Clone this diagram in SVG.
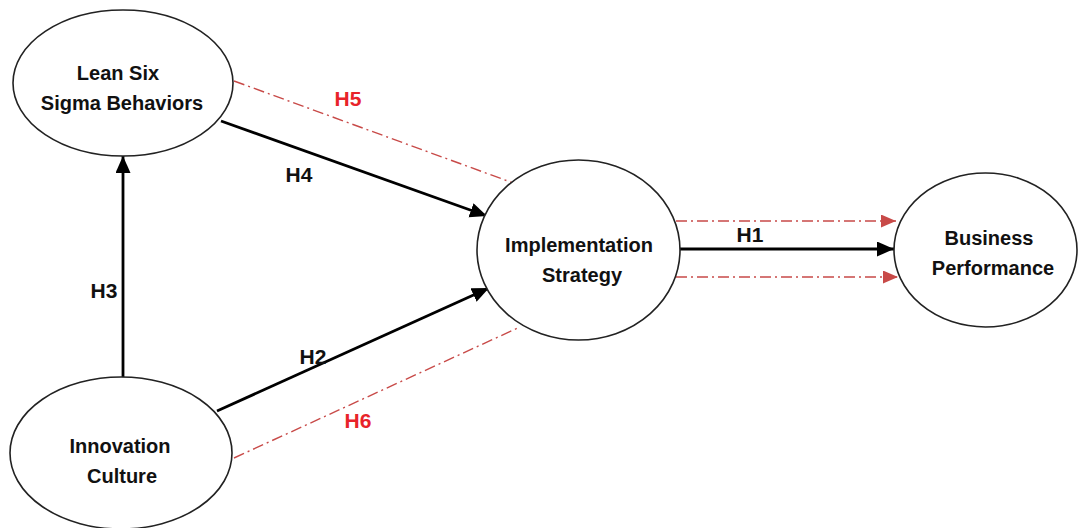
<svg xmlns="http://www.w3.org/2000/svg" width="1078" height="528" viewBox="0 0 1078 528">
<defs>
<style>
.node{fill:#fff;stroke:#222;stroke-width:1.6}
.nt{font-family:"Liberation Sans",Arial,sans-serif;font-weight:bold;font-size:20px;fill:#111;text-anchor:middle}
.lb{font-family:"Liberation Sans",Arial,sans-serif;font-weight:bold;font-size:21px;fill:#111;text-anchor:middle}
.lr{fill:#e8232a}
.blk{stroke:#000;stroke-width:2.8;fill:none}
.red{stroke:#c84a48;stroke-width:1.4;fill:none;stroke-dasharray:11 4 2 4}
</style>
<marker id="ab" markerUnits="userSpaceOnUse" markerWidth="20" markerHeight="18" refX="17" refY="7.5" orient="auto">
<path d="M0,0 L17,7.5 L0,15 z" fill="#000"/>
</marker>
<marker id="ar" markerUnits="userSpaceOnUse" markerWidth="16" markerHeight="14" refX="15" refY="6.5" orient="auto">
<path d="M0,0 L15,6.5 L0,13 z" fill="#c84a48"/>
</marker>
</defs>
<rect width="1078" height="528" fill="#fff"/>
<g id="connectors">
<line class="red" x1="234" y1="81" x2="516" y2="184"/>
<line class="red" x1="234" y1="458" x2="520" y2="327"/>
<line class="red" x1="676" y1="221" x2="896" y2="221" marker-end="url(#ar)"/>
<line class="red" x1="676" y1="277" x2="898" y2="277" marker-end="url(#ar)"/>
<line class="blk" x1="123" y1="377" x2="123" y2="156" marker-end="url(#ab)"/>
<line class="blk" x1="221" y1="121" x2="487" y2="216" marker-end="url(#ab)"/>
<line class="blk" x1="217" y1="411" x2="489" y2="288" marker-end="url(#ab)"/>
<line class="blk" x1="678" y1="249" x2="894" y2="249" marker-end="url(#ab)"/>
<text class="lb lr" x="348" y="106">H5</text>
<text class="lb" x="299" y="182">H4</text>
<text class="lb" x="104" y="298">H3</text>
<text class="lb" x="313" y="364">H2</text>
<text class="lb lr" x="358" y="428">H6</text>
<text class="lb" x="750" y="242">H1</text>
</g>
<g id="lean-six-sigma">
<ellipse class="node" cx="123" cy="83" rx="110" ry="73"/>
<text class="nt" x="118" y="80">Lean Six</text>
<text class="nt" x="122" y="110">Sigma Behaviors</text>
</g>
<g id="innovation-culture">
<ellipse class="node" cx="121" cy="453" rx="111" ry="76"/>
<text class="nt" x="120" y="453">Innovation</text>
<text class="nt" x="122" y="483">Culture</text>
</g>
<g id="implementation-strategy">
<ellipse class="node" cx="578.5" cy="250" rx="101.5" ry="90"/>
<text class="nt" x="579" y="252">Implementation</text>
<text class="nt" x="582" y="282">Strategy</text>
</g>
<g id="business-performance">
<ellipse class="node" cx="985.5" cy="250" rx="91.5" ry="77"/>
<text class="nt" x="989" y="245">Business</text>
<text class="nt" x="993" y="275">Performance</text>
</g>
</svg>
